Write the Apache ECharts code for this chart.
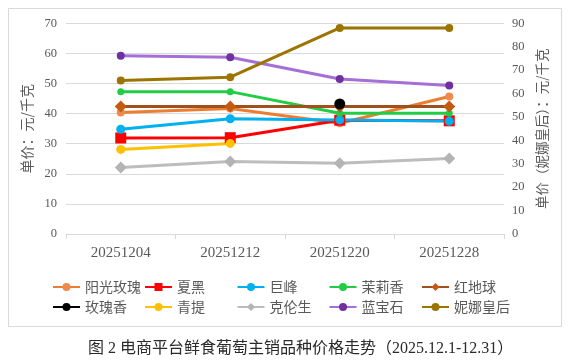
<!DOCTYPE html>
<html>
<head>
<meta charset="utf-8">
<script src="https://cdn.jsdelivr.net/npm/echarts@6/dist/echarts.min.js"></script>
<style>
html,body{margin:0;padding:0;background:#fff;}
#main{width:568px;height:363px;}
</style>
</head>
<body>
<div id="main"></div>
<script>
const categories = ['20251204','20251212','20251220','20251228'];
const leftTicks = [0,10,20,30,40,50,60,70];
const rightTicks = [0,10,20,30,40,50,60,70,80,90];

const yangguangmeigui = [40.4, 41.7, 36.8, 45.7];
const xiahei = [31.9, 32.0, 37.8, 37.6];
const jufeng = [34.8, 38.3, 37.9, 37.5];
const molixiang = [47.3, 47.3, 40.1, 40.1];
const hongdiqiu = [42.4, 42.4, 42.4, 42.4];
const meiguixiang = [null, null, 43.2, null];
const qingti = [28.1, 30.1, null, null];
const kelunsheng = [22.1, 24.1, 23.5, 25.1];
const lanbaoshi = [59.2, 58.7, 51.5, 49.3];
const ninahuanghou = [65.6, 67.0, 88.0, 88.0];

const seriesNames = ['阳光玫瑰','夏黑','巨峰','茉莉香','红地球','玫瑰香','青提','克伦生','蓝宝石','妮娜皇后'];

function mk(name, data, lineColor, markColor, symbol, size, yIdx) {
  return {
    name: name, type: 'line', data: data, yAxisIndex: yIdx || 0,
    symbol: symbol, symbolSize: size, showSymbol: true,
    connectNulls: false,
    lineStyle: {color: lineColor, width: 3},
    itemStyle: {color: markColor, borderWidth: 0},
    emphasis: {disabled: true}
  };
}

const chart = echarts.init(document.getElementById('main'), null, {renderer: 'canvas'});
const legendText = {fontFamily: '"Noto Sans CJK SC", sans-serif', fontSize: 14, color: '#595959'};
const legendCols = [[seriesNames[0], seriesNames[5]], [seriesNames[1], seriesNames[6]], [seriesNames[2], seriesNames[7]], [seriesNames[3], seriesNames[8]], [seriesNames[4], seriesNames[9]]];
const legendLefts = [52, 144, 236.5, 328.5, 421];
const legends = legendCols.map((d, i) => ({
  data: d, orient: 'vertical', left: legendLefts[i], top: 280, padding: 0,
  itemWidth: 27, itemHeight: 10, itemGap: 6, textStyle: legendText, selectedMode: false
}));

chart.setOption({
  backgroundColor: '#fff',
  animation: false,
  title: {
    text: '图 2 电商平台鲜食葡萄主销品种价格走势（2025.12.1-12.31）',
    left: 88, top: 341, padding: 0,
    textStyle: {fontFamily: '"Liberation Serif", "Noto Sans CJK SC", serif', fontSize: 16, fontWeight: 'normal', color: '#2a2a2a'}
  },
  graphic: [{
    type: 'rect', shape: {x: 8.5, y: 8.5, width: 553, height: 318},
    style: {fill: 'none', stroke: '#d9d9d9', lineWidth: 1}, z: -1, silent: true
  }],
  legend: legends,
  grid: {left: 66, right: 64, top: 23.3, bottom: 129, containLabel: false},
  xAxis: {
    type: 'category', data: categories, boundaryGap: true,
    axisLine: {lineStyle: {color: '#d9d9d9', width: 1}},
    axisTick: {show: true, length: 5, lineStyle: {color: '#d9d9d9'}},
    axisLabel: {fontFamily: '"Liberation Serif", serif', fontSize: 15, color: '#595959', margin: 12},
    splitLine: {show: false}
  },
  yAxis: [{
    type: 'value', min: 0, max: 70, interval: 10, position: 'left',
    name: '单价：元/千克', nameLocation: 'middle', nameGap: 29, nameRotate: 90,
    nameTextStyle: {fontFamily: '"Noto Sans CJK SC", sans-serif', fontSize: 14, color: '#595959'},
    axisLine: {show: false}, axisTick: {show: false},
    axisLabel: {fontFamily: '"Liberation Serif", serif', fontSize: 12.5, color: '#595959', margin: 9,
      formatter: v => leftTicks.includes(v) ? String(v) : ''},
    splitLine: {lineStyle: {color: '#d9d9d9', width: 1}}
  }, {
    type: 'value', min: 0, max: 90, interval: 10, position: 'right',
    name: '单价（妮娜皇后）：元/千克', nameLocation: 'middle', nameGap: 24, nameRotate: 90,
    nameTextStyle: {fontFamily: '"Noto Sans CJK SC", sans-serif', fontSize: 13.5, color: '#595959'},
    axisLine: {show: false}, axisTick: {show: false},
    axisLabel: {fontFamily: '"Liberation Serif", serif', fontSize: 12.5, color: '#595959', margin: 8,
      formatter: v => rightTicks.includes(v) ? String(v) : ''},
    splitLine: {show: false}
  }],
  series: [
    mk(seriesNames[0], yangguangmeigui, '#ED7D31', '#F08A4B', 'circle', 8),
    mk(seriesNames[1], xiahei, '#FF0000', '#FF0000', 'rect', 11),
    mk(seriesNames[2], jufeng, '#00B0F0', '#00B0F0', 'circle', 9),
    mk(seriesNames[3], molixiang, '#22CC44', '#22CC44', 'circle', 7),
    mk(seriesNames[4], hongdiqiu, '#A0501C', '#C55A11', 'diamond', 12),
    mk(seriesNames[5], meiguixiang, '#000000', '#000000', 'circle', 11),
    mk(seriesNames[6], qingti, '#FFC000', '#FFC000', 'circle', 9),
    mk(seriesNames[7], kelunsheng, '#BDBDBD', '#B4B4B4', 'diamond', 12),
    mk(seriesNames[8], lanbaoshi, '#A66FD8', '#7030A0', 'circle', 8),
    mk(seriesNames[9], ninahuanghou, '#9C7400', '#9C7400', 'circle', 8, 1)
  ]
});
</script>
</body>
</html>
